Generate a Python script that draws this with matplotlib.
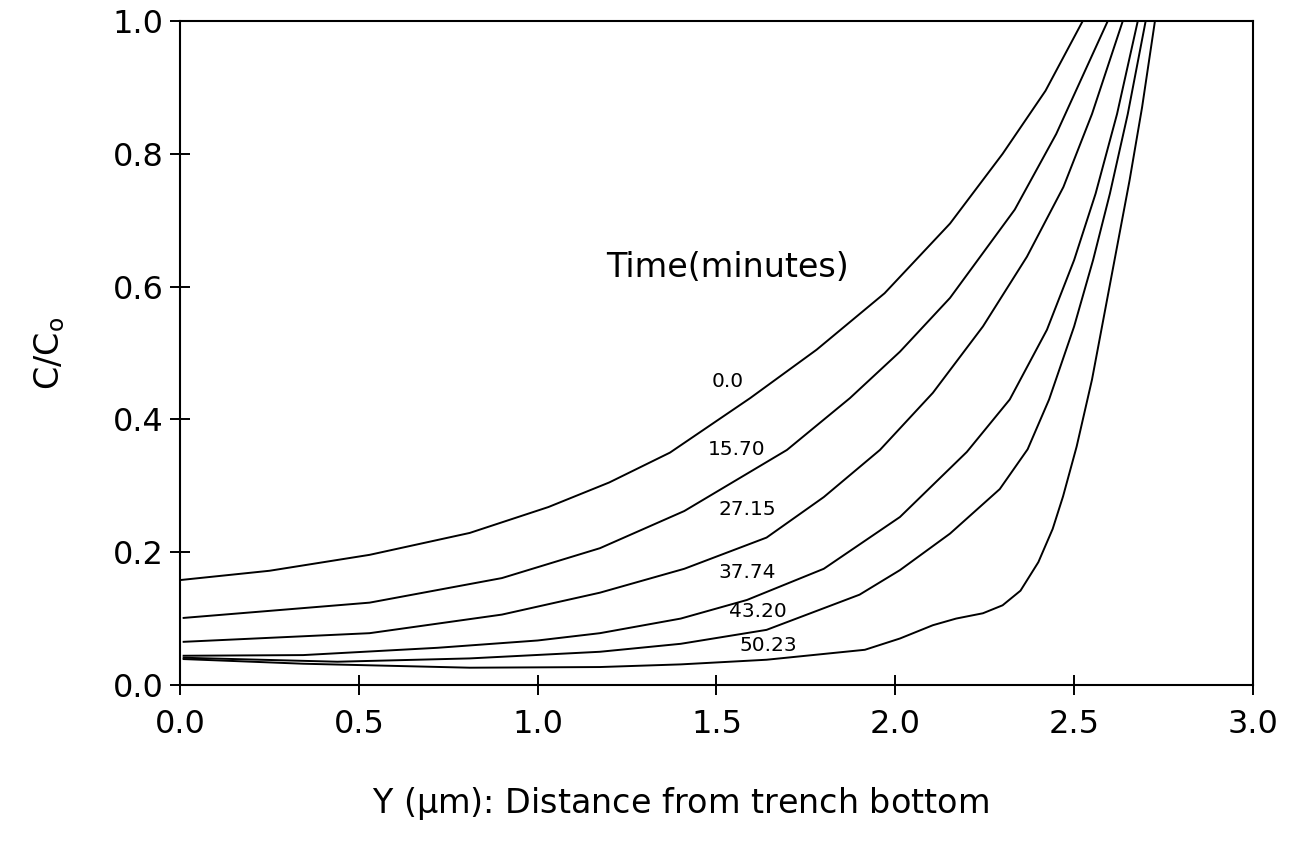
# -*- coding: utf-8 -*-
"""
Concentration profiles along the trench, C/Co vs distance from bottom
"""

# %% data
import matplotlib
matplotlib.use('Agg')
import matplotlib.pyplot as plt

# time labels (minutes)
times = ['0.0', '15.70', '27.15', '37.74', '43.20', '50.23']

# curve t = 0.0
x_t0 = [0.0, 0.25, 0.53, 0.81, 1.03, 1.2, 1.37, 1.594, 1.78, 1.97, 2.153, 2.3, 2.42, 2.524]
c_t0 = [0.158, 0.172, 0.196, 0.229, 0.268, 0.305, 0.350, 0.432, 0.505, 0.590, 0.695, 0.800, 0.895, 1.0]

# curve t = 15.70
x_t1 = [0.01, 0.53, 0.9, 1.174, 1.41, 1.697, 1.873, 2.013, 2.153, 2.334, 2.45, 2.594]
c_t1 = [0.101, 0.124, 0.161, 0.206, 0.262, 0.354, 0.432, 0.502, 0.583, 0.716, 0.83, 1.0]

# curve t = 27.15
x_t2 = [0.01, 0.53, 0.9, 1.174, 1.41, 1.64, 1.8, 1.957, 2.105, 2.245, 2.368, 2.47, 2.55, 2.636]
c_t2 = [0.065, 0.078, 0.106, 0.139, 0.175, 0.222, 0.283, 0.354, 0.44, 0.54, 0.645, 0.75, 0.86, 1.0]

# curve t = 37.74
x_t3 = [0.01, 0.344, 0.72, 1.0, 1.174, 1.4, 1.585, 1.8, 2.013, 2.2, 2.32, 2.424, 2.5, 2.56, 2.62, 2.678]
c_t3 = [0.044, 0.045, 0.056, 0.067, 0.078, 0.1, 0.128, 0.175, 0.253, 0.351, 0.43, 0.535, 0.64, 0.74, 0.86, 1.0]

# curve t = 43.20
x_t4 = [0.01, 0.44, 0.81, 1.174, 1.4, 1.64, 1.9, 2.013, 2.153, 2.292, 2.37, 2.43, 2.5, 2.553, 2.6, 2.65, 2.70]
c_t4 = [0.041, 0.035, 0.04, 0.05, 0.062, 0.083, 0.136, 0.173, 0.228, 0.295, 0.355, 0.43, 0.54, 0.64, 0.74, 0.86, 1.0]

# curve t = 50.23
x_t5 = [0.01, 0.344, 0.81, 1.174, 1.4, 1.64, 1.915, 2.013, 2.105, 2.17, 2.245, 2.3, 2.35, 2.4, 2.44, 2.469,
        2.507, 2.55, 2.585, 2.62, 2.655, 2.69, 2.726]
c_t5 = [0.039, 0.032, 0.026, 0.027, 0.031, 0.038, 0.053, 0.07, 0.09, 0.1, 0.108, 0.12, 0.142, 0.185, 0.235, 0.284,
        0.359, 0.46, 0.56, 0.66, 0.76, 0.87, 1.0]

# label positions (data coords)
lab_x = [1.532, 1.557, 1.585, 1.585, 1.616, 1.644]
lab_y = [0.457, 0.354, 0.264, 0.170, 0.110, 0.059]

xticks = [0.0, 0.5, 1.0, 1.5, 2.0, 2.5, 3.0]
yticks = [0.0, 0.2, 0.4, 0.6, 0.8, 1.0]

# set plot style
plt.rcParams['font.family'] = 'DejaVu Sans'
plt.rcParams['xtick.labelsize'] = 23
plt.rcParams['ytick.labelsize'] = 23
plt.rcParams['axes.labelsize'] = 23
plt.rcParams.update({'mathtext.default': 'regular'})  # not italics

# %% plot
fig, ax = plt.subplots(figsize=(13, 8.42), dpi=100)
fig.subplots_adjust(left=0.1385, right=0.9638, bottom=0.1865, top=0.975)

curves = [(x_t0, c_t0), (x_t1, c_t1), (x_t2, c_t2), (x_t3, c_t3), (x_t4, c_t4), (x_t5, c_t5)]
for xs, cs in curves:
    ax.plot(xs, cs, 'k-', lw=1.4, solid_joinstyle='round')

for ii, t in enumerate(times):
    ax.text(lab_x[ii], lab_y[ii], t, fontsize=14.5, ha='center', va='center')

ax.text(1.53, 0.629, 'Time(minutes)', fontsize=24, ha='center', va='center')

ax.set_xlim(0, 3.0)
ax.set_ylim(0, 1.0)
ax.set_xticks(xticks)
ax.set_yticks(yticks)
ax.set_xticklabels(['%.1f' % v for v in xticks])
ax.set_yticklabels(['%.1f' % v for v in yticks])
ax.tick_params(direction='inout', length=14, width=1.4, top=False, right=False)
ax.tick_params(axis='x', pad=10)
ax.tick_params(axis='y', pad=5)
for sp in ax.spines.values():
    sp.set_linewidth(1.5)

ax.set_xlabel(r'Y ($\mu$m): Distance from trench bottom', fontsize=24)
ax.xaxis.set_label_coords(0.466, -0.15)
ax.xaxis.label.set_va('top')
ax.set_ylabel(r'C/C$_o$', fontsize=24)
ax.yaxis.set_label_coords(-0.105, 0.5)

fig.savefig('out.png', dpi=100)
